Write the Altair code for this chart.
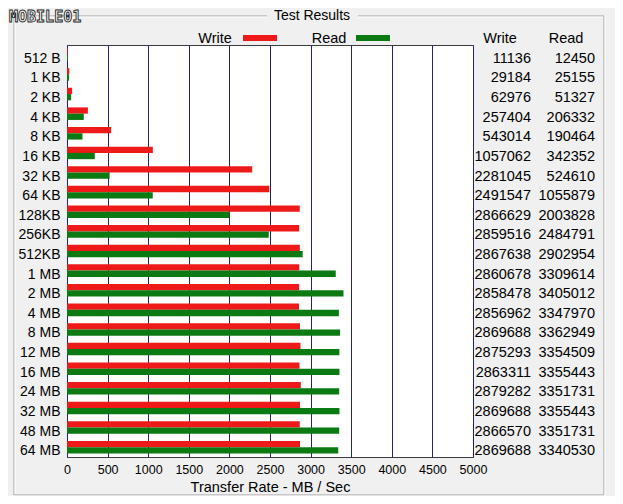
import altair as alt
import pandas as pd

# ---------------- data ----------------
sizes = ["512 B", "1 KB", "2 KB", "4 KB", "8 KB", "16 KB", "32 KB", "64 KB",
         "128KB", "256KB", "512KB", "1 MB", "2 MB", "4 MB", "8 MB", "12 MB",
         "16 MB", "24 MB", "32 MB", "48 MB", "64 MB"]
write_kbs = [11136, 29184, 62976, 257404, 543014, 1057062, 2281045, 2491547,
             2866629, 2859516, 2867638, 2860678, 2858478, 2856962, 2869688,
             2875293, 2863311, 2879282, 2869688, 2866570, 2869688]
read_kbs = [12450, 25155, 51327, 206332, 190464, 342352, 524610, 1055879,
            2003828, 2484791, 2902954, 3309614, 3405012, 3347970, 3362949,
            3354509, 3355443, 3351731, 3355443, 3351731, 3340530]
series = ["Write", "Read"]
colors = ["#ee1a1a", "#0b7a12"]
x_tick_labels = [0, 500, 1000, 1500, 2000, 2500, 3000, 3500, 4000, 4500, 5000]

rows = []
for s, w, r in zip(sizes, write_kbs, read_kbs):
    rows.append({"size": s, "series": "Write", "rate": w})
    rows.append({"size": s, "series": "Read", "rate": r})
bars_df = pd.DataFrame(rows)
table_df = pd.DataFrame({"size": sizes, "write": write_kbs, "read": read_kbs})
one = pd.DataFrame({"k": [0]})

FONT = "Liberation Sans"

y_enc = alt.Y(
    "size:N", sort=sizes,
    scale=alt.Scale(paddingInner=0.36, paddingOuter=0.18),
    axis=alt.Axis(title=None, ticks=False, domain=False, labelFontSize=14,
                  labelFont=FONT, labelColor="black", labelPadding=7,
                  labelOffset=4),
)

bars = alt.Chart(bars_df).mark_bar().encode(
    x=alt.X("rate:Q",
            scale=alt.Scale(domain=[0, 5000000], nice=False, zero=True),
            axis=alt.Axis(values=[v * 1000 for v in x_tick_labels],
                          labelExpr="datum.value / 1000",
                          labelOverlap=False, labelFlush=False,
                          grid=True, gridColor="#22226e", gridOpacity=1,
                          gridWidth=1, ticks=False, domain=False,
                          labelFontSize=12.5, labelFont=FONT,
                          labelColor="black", labelPadding=6,
                          title="Transfer Rate - MB / Sec", titleFont=FONT,
                          titleFontSize=14.5, titleFontWeight="normal",
                          titleColor="black", titlePadding=5)),
    y=y_enc,
    yOffset=alt.YOffset("series:N", sort=series,
                        scale=alt.Scale(paddingInner=0, paddingOuter=0)),
    color=alt.Color("series:N", scale=alt.Scale(domain=series, range=colors),
                    legend=None),
)

write_col = alt.Chart(table_df).mark_text(
    align="right", baseline="middle", dy=4, fontSize=14.5, font=FONT,
    color="black").encode(x=alt.value(464), y=y_enc, text="write:N")
read_col = alt.Chart(table_df).mark_text(
    align="right", baseline="middle", dy=4, fontSize=14.5, font=FONT,
    color="black").encode(x=alt.value(528), y=y_enc, text="read:N")


def label(txt, x, y, size=14.5, align="center"):
    return alt.Chart(one).mark_text(
        align=align, baseline="middle", fontSize=size, font=FONT,
        color="black").encode(x=alt.value(x), y=alt.value(y),
                              text=alt.value(txt))


def line(x1, x2, y1, y2, color):
    return alt.Chart(one).mark_rule(color=color, strokeWidth=1).encode(
        x=alt.value(x1), x2=alt.value(x2), y=alt.value(y1), y2=alt.value(y2))


def swatch(x1, x2, color):
    return alt.Chart(one).mark_rect(color=color).encode(
        x=alt.value(x1), x2=alt.value(x2), y=alt.value(-10), y2=alt.value(-4))


TOP = -29
deco = [
    # group box (etched)
    line(-53, 200, TOP, TOP, "#a0a0a0"), line(-52, 200, TOP + 1, TOP + 1, "white"),
    line(291, 537, TOP, TOP, "#a0a0a0"), line(291, 536, TOP + 1, TOP + 1, "white"),
    line(-53, -53, TOP, 450, "#a0a0a0"), line(-52, -52, TOP + 1, 449, "white"),
    line(537, 537, TOP, 450, "#a0a0a0"), line(538, 538, TOP, 451, "white"),
    line(-53, 537, 450, 450, "#a0a0a0"), line(-53, 538, 451, 451, "white"),
    label("Test Results", 245, TOP, 14),
    label("Write", 148, -6), swatch(176, 210, colors[0]),
    label("Read", 262, -6), swatch(289, 323, colors[1]),
    label("Write", 433, -6), label("Read", 499, -6),
    alt.Chart(one).mark_text(
        align="left", baseline="middle", fontSize=15, font="DejaVu Sans Mono",
        fontWeight="bold", fill="white", stroke="#222", strokeWidth=0.9
    ).encode(x=alt.value(-58), y=alt.value(-28), text=alt.value("MOBILE01")),
]

chart = alt.layer(bars, write_col, read_col, *deco).properties(
    width=406, height=412,
    autosize=alt.AutoSizeParams(type="none"),
    padding={"left": 59, "top": 37, "right": 142, "bottom": 39},
).configure(background="#f0f0f0").configure_view(
    stroke="#3c3c3c", strokeWidth=1, fill="white")

chart.save("out.html", embed_options={"renderer": "svg", "actions": False})
